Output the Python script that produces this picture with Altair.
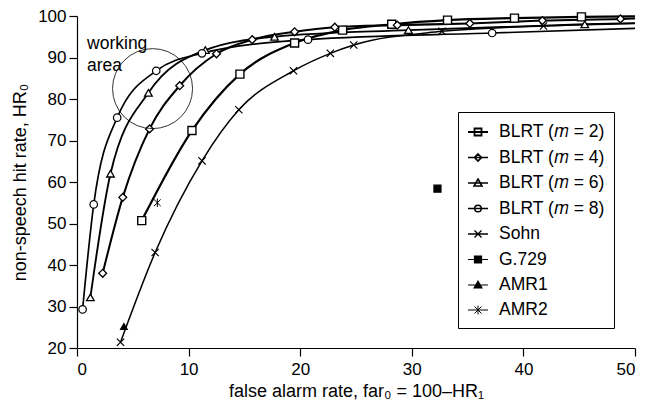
import altair as alt
import pandas as pd

FONT = "Liberation Sans"

series = ["BLRT (𝑚 = 2)", "BLRT (𝑚 = 4)", "BLRT (𝑚 = 6)", "BLRT (𝑚 = 8)",
          "Sohn", "G.729", "AMR1", "AMR2"]

# curve points (last point of each curve is the line end at the right edge, no marker)
m2_x = [5.8, 10.3, 14.6, 19.5, 23.8, 28.2, 33.2, 39.2, 45.2, 50]
m2_y = [50.7, 72.4, 86.0, 93.5, 96.6, 98.0, 99.0, 99.5, 99.8, 99.9]
m4_x = [2.3, 4.1, 6.5, 9.2, 12.5, 15.7, 19.5, 23.1, 28.7, 35.2, 41.7, 48.7, 50]
m4_y = [38.0, 56.3, 72.8, 83.2, 90.9, 94.3, 96.2, 97.3, 97.8, 98.2, 98.9, 99.3, 99.4]
m6_x = [1.2, 3.0, 6.4, 11.5, 17.7, 29.7, 45.5, 50]
m6_y = [32.2, 62.0, 81.5, 91.8, 95.0, 96.6, 98.0, 98.3]
m8_x = [0.5, 1.5, 3.6, 7.1, 11.2, 20.7, 37.2, 50]
m8_y = [29.3, 54.6, 75.5, 86.8, 91.0, 94.3, 95.9, 97.0]
sohn_x = [3.9, 7.0, 11.2, 14.5, 19.4, 22.7, 24.8, 32.7, 41.8, 50]
sohn_y = [21.4, 43.0, 65.1, 77.4, 86.8, 91.0, 93.0, 96.3, 97.6, 98.2]
g729_x = [32.3]
g729_y = [58.4]
amr1_x = [4.2]
amr1_y = [25.2]
amr2_x = [7.2]
amr2_y = [55.0]

curves = [
    (series[0], m2_x, m2_y, True),
    (series[1], m4_x, m4_y, True),
    (series[2], m6_x, m6_y, True),
    (series[3], m8_x, m8_y, True),
    (series[4], sohn_x, sohn_y, True),
    (series[5], g729_x, g729_y, False),
    (series[6], amr1_x, amr1_y, False),
    (series[7], amr2_x, amr2_y, False),
]

rows = []
for name, xs_, ys_, has_end in curves:
    n = len(xs_)
    for i, (x, y) in enumerate(zip(xs_, ys_)):
        marker = not (has_end and i == n - 1)
        rows.append({"series": name, "x": x, "y": y, "marker": marker})
df = pd.DataFrame(rows)
line_df = df[df["series"].isin(series[:5])]
pt_df = df[df["marker"]]

widths = [2.2, 1.0, 2.2, 2.2, 1.0, 2.2, 2.2, 1.0]
fills = ["white", "white", "white", "white", "white", "black", "black", "white"]
strokes = ["black"] * 8
pt_shapes = ["square", "diamond", "triangle-up", "circle",
             "M-1,-1L1,1M-1,1L1,-1", "square", "triangle-up",
             "M-1,-1L1,1M-1,1L1,-1M0,-1.25V1.25"]
pt_sizes = [64, 45, 70, 64, 90, 90, 110, 90]
pt_widths = [1.4, 1.0, 1.4, 1.4, 1.0, 1.4, 1.4, 1.0]

L = "M-1,0H1"
lg_shapes = [
    L + "M-0.35,-0.35H0.35V0.35H-0.35Z",
    L + "M0,-0.35L0.35,0L0,0.35L-0.35,0Z",
    L + "M0,-0.4L0.4,0.3L-0.4,0.3Z",
    L + "M0.33,0A0.33,0.33,0,1,1,-0.33,0A0.33,0.33,0,1,1,0.33,0Z",
    L + "M-0.35,-0.35L0.35,0.35M-0.35,0.35L0.35,-0.35",
    L + "M-0.35,-0.35H0.35V0.35H-0.35Z",
    L + "M0,-0.4L0.4,0.3L-0.4,0.3Z",
    L + "M-0.35,-0.35L0.35,0.35M-0.35,0.35L0.35,-0.35M0,-0.45V0.45",
]
lg_widths = [1.8, 1.0, 1.8, 1.8, 1.0, 1.8, 1.8, 1.0]

xs = alt.Scale(domain=[0, 50], nice=False)
ys = alt.Scale(domain=[20, 100], nice=False)
x_axis = alt.Axis(values=[0, 10, 20, 30, 40, 50], title="false alarm rate, far₀ = 100–HR₁",
                  grid=False, tickSize=8, labelPadding=5, titlePadding=5)
y_axis = alt.Axis(values=[20, 30, 40, 50, 60, 70, 80, 90, 100], title="non-speech hit rate, HR₀",
                  grid=False, tickSize=8, labelPadding=3, titlePadding=8)

lines = alt.Chart(line_df).mark_line(interpolate="monotone", color="black").encode(
    x=alt.X("x:Q", scale=xs, axis=x_axis),
    y=alt.Y("y:Q", scale=ys, axis=y_axis),
    detail="series:N",
    strokeWidth=alt.StrokeWidth("series:N", scale=alt.Scale(domain=series, range=widths), legend=None),
)

points = alt.Chart(pt_df).mark_point(filled=True, stroke="black", opacity=1).encode(
    x=alt.X("x:Q", scale=xs),
    y=alt.Y("y:Q", scale=ys),
    shape=alt.Shape("series:N", scale=alt.Scale(domain=series, range=pt_shapes), legend=None),
    fill=alt.Fill("series:N", scale=alt.Scale(domain=series, range=fills), legend=None),
    size=alt.Size("series:N", scale=alt.Scale(domain=series, range=pt_sizes), legend=None),
    strokeWidth=alt.StrokeWidth("series:N", scale=alt.Scale(domain=series, range=pt_widths), legend=None),
)

area_x = [6.77]
area_y = [82.5]
circle = alt.Chart(pd.DataFrame({"x": area_x, "y": area_y})).mark_point(
    shape="circle", size=6400, filled=False, stroke="black", strokeWidth=0.8, opacity=1
).encode(x=alt.X("x:Q", scale=xs), y=alt.Y("y:Q", scale=ys))

label_text = ["working", "area"]
label_x = [0.9, 0.9]
label_y = [92.1, 86.8]
text = alt.Chart(pd.DataFrame({"t": label_text, "x": label_x, "y": label_y})).mark_text(
    align="left", baseline="alphabetic", font=FONT, fontSize=17.5, color="black"
).encode(x=alt.X("x:Q", scale=xs), y=alt.Y("y:Q", scale=ys), text="t:N")

legend = alt.Legend(
    title=None, orient="none", legendX=381, legendY=96,
    labelFont=FONT, labelFontSize=17.5, labelColor="black",
    strokeColor="black", fillColor="white", padding=9, rowPadding=5.5,
    labelOffset=10, symbolSize=400, symbolOpacity=1,
    cornerRadius=0,
)
leg_df = pd.DataFrame({"series": series})
# legend-only layer: its marks sit outside the drawing, only the legend is shown
leg_layer = alt.Chart(leg_df).mark_point(filled=False, opacity=1).encode(
    x=alt.value(-3000),
    y=alt.value(-3000),
    shape=alt.Shape("series:N", scale=alt.Scale(domain=series, range=lg_shapes), legend=legend, sort=series),
    fill=alt.Fill("series:N", scale=alt.Scale(domain=series, range=fills), legend=legend, sort=series),
    stroke=alt.Stroke("series:N", scale=alt.Scale(domain=series, range=strokes), legend=legend, sort=series),
    strokeWidth=alt.StrokeWidth("series:N", scale=alt.Scale(domain=series, range=lg_widths), legend=legend, sort=series),
)

chart = alt.layer(lines, points, circle, text, leg_layer).resolve_scale(
    shape="independent", fill="independent", stroke="independent",
    strokeWidth="independent", size="independent"
).properties(
    width=558, height=332,
    autosize=alt.AutoSizeParams(type="none"),
    padding={"left": 69, "top": 8, "right": 3, "bottom": 53},
).configure_view(strokeWidth=0).configure_axis(
    labelFont=FONT, titleFont=FONT, labelFontSize=17, titleFontSize=18,
    labelColor="black", titleColor="black", domainColor="black", tickColor="black",
    titleFontWeight="normal", domainWidth=1.2, tickWidth=1.2,
)

chart.save("out.html", embed_options={"renderer": "svg", "actions": False})
